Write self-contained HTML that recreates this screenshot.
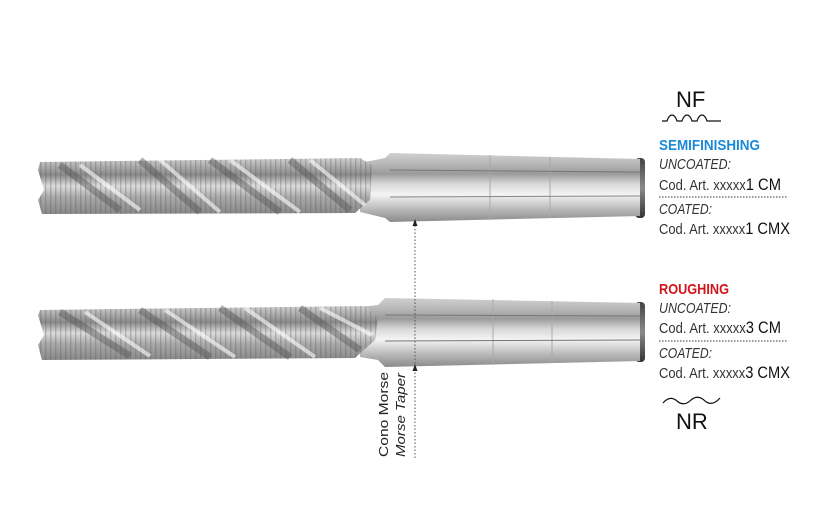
<!DOCTYPE html>
<html><head><meta charset="utf-8"><style>
html,body{margin:0;padding:0;background:#fff;}
svg{display:block}
text{font-family:"Liberation Sans",sans-serif;}
</style></head><body>
<svg width="840" height="520" viewBox="0 0 840 520" xmlns="http://www.w3.org/2000/svg">
<defs>
<linearGradient id="sh" x1="0" y1="0" x2="0" y2="1">
<stop offset="0" stop-color="#cfcfcf"/><stop offset="0.15" stop-color="#b9b9b9"/><stop offset="0.3" stop-color="#9a9a9a"/>
<stop offset="0.45" stop-color="#d8d8d8"/><stop offset="0.6" stop-color="#f4f4f4"/><stop offset="0.8" stop-color="#bdbdbd"/><stop offset="1" stop-color="#8a8a8a"/>
</linearGradient>
<linearGradient id="fl" x1="0" y1="0" x2="0" y2="1">
<stop offset="0" stop-color="#d0d0d0"/><stop offset="0.3" stop-color="#8a8a8a"/><stop offset="0.5" stop-color="#dcdcdc"/>
<stop offset="0.7" stop-color="#aaa"/><stop offset="1" stop-color="#888"/>
</linearGradient>
<linearGradient id="cap" x1="0" y1="0" x2="0" y2="1">
<stop offset="0" stop-color="#444"/><stop offset="0.5" stop-color="#8a8a8a"/><stop offset="1" stop-color="#333"/>
</linearGradient>
<pattern id="teeth" width="5" height="10" patternUnits="userSpaceOnUse">
<rect x="0" width="1.4" height="10" fill="#555" opacity="0.3"/>
</pattern>
</defs>

<!-- Tool 1 -->
<g>
<rect x="635" y="158" width="10" height="60" rx="4" fill="url(#cap)"/>
<polygon points="390,153 640,159 640,216 390,222" fill="url(#sh)"/>
<line x1="490" y1="155" x2="490" y2="220" stroke="#aaa"/>
<line x1="550" y1="157" x2="550" y2="218" stroke="#aaa"/>
<line x1="390" y1="170" x2="640" y2="172" stroke="#777" stroke-width="1"/>
<line x1="390" y1="197" x2="640" y2="196" stroke="#888" stroke-width="1"/>
<polygon points="360,163 385,158 390,153 390,222 385,218 360,212" fill="url(#sh)"/>
<polygon points="40,162 360,158 372,165 370,200 355,213 42,214 38,200 44,190 38,170" fill="url(#fl)"/>
<polygon points="40,162 360,158 372,165 370,200 355,213 42,214 38,200 44,190 38,170" fill="url(#teeth)"/>
<path d="M60,165 L120,210 M140,160 L200,212 M210,160 L280,212 M290,160 L350,210" stroke="#555" stroke-width="7" opacity="0.45" fill="none"/>
<path d="M80,165 L140,210 M160,160 L220,212 M230,160 L300,212 M310,160 L365,205" stroke="#fff" stroke-width="4" opacity="0.6" fill="none"/>
</g>

<!-- Tool 2 -->
<g>
<rect x="635" y="302" width="10" height="60" rx="4" fill="url(#cap)"/>
<polygon points="385,298 640,303 640,361 385,367" fill="url(#sh)"/>
<line x1="493" y1="299" x2="493" y2="365" stroke="#aaa"/>
<line x1="552" y1="301" x2="552" y2="363" stroke="#aaa"/>
<line x1="385" y1="315" x2="640" y2="316" stroke="#777"/>
<line x1="385" y1="341" x2="640" y2="340" stroke="#777"/>
<polygon points="360,307 378,305 385,298 385,367 378,360 360,357" fill="url(#sh)"/>
<polygon points="40,310 365,306 378,318 375,340 355,358 42,360 38,345 44,335 38,315" fill="url(#fl)"/>
<polygon points="40,310 365,306 378,318 375,340 355,358 42,360 38,345 44,335 38,315" fill="url(#teeth)"/>
<path d="M60,312 L130,356 M140,310 L210,357 M220,308 L290,357 M300,308 L360,350" stroke="#555" stroke-width="7" opacity="0.45" fill="none"/>
<path d="M85,312 L150,356 M165,310 L235,357 M245,308 L315,357 M320,308 L372,335" stroke="#fff" stroke-width="4" opacity="0.6" fill="none"/>
</g>

<!-- dashed connector -->
<line x1="415" y1="222" x2="415" y2="460" stroke="#555" stroke-width="1" stroke-dasharray="1.5,2"/>
<polygon points="412.5,226 417.5,226 415,219" fill="#222"/>
<polygon points="412.5,371 417.5,371 415,364" fill="#222"/>
<text transform="translate(388,457) rotate(-90)" font-size="13" fill="#222" textLength="85" lengthAdjust="spacingAndGlyphs">Cono Morse</text>
<text transform="translate(405,457) rotate(-90)" font-size="13" font-style="italic" fill="#222" textLength="84" lengthAdjust="spacingAndGlyphs">Morse Taper</text>

<!-- right labels -->
<text x="676" y="107" font-size="22" fill="#111">NF</text>
<path d="M662,121 L667,121 Q669,115 672,115 Q675,115 677,121 L682,121 Q684,115 687,115 Q690,115 692,121 L697,121 Q699,115 702,115 Q705,115 707,121 L721,121" stroke="#111" stroke-width="1.2" fill="none"/>
<text x="659" y="150" font-size="15" font-weight="bold" fill="#1a8ad6" textLength="101" lengthAdjust="spacingAndGlyphs">SEMIFINISHING</text>
<text x="659" y="169" font-size="15" font-style="italic" fill="#333" textLength="72" lengthAdjust="spacingAndGlyphs">UNCOATED:</text>
<text x="659" y="190" font-size="15" fill="#333" textLength="122" lengthAdjust="spacingAndGlyphs">Cod. Art. xxxxx<tspan font-size="17" fill="#111">1 CM</tspan></text>
<line x1="659" y1="197" x2="787" y2="197" stroke="#333" stroke-dasharray="1.5,1.5"/>
<text x="659" y="214" font-size="15" font-style="italic" fill="#333" textLength="53" lengthAdjust="spacingAndGlyphs">COATED:</text>
<text x="659" y="234" font-size="15" fill="#333" textLength="131" lengthAdjust="spacingAndGlyphs">Cod. Art. xxxxx<tspan font-size="17" fill="#111">1 CMX</tspan></text>

<text x="659" y="294" font-size="15" font-weight="bold" fill="#d0161c" textLength="70" lengthAdjust="spacingAndGlyphs">ROUGHING</text>
<text x="659" y="313" font-size="15" font-style="italic" fill="#333" textLength="72" lengthAdjust="spacingAndGlyphs">UNCOATED:</text>
<text x="659" y="333" font-size="15" fill="#333" textLength="122" lengthAdjust="spacingAndGlyphs">Cod. Art. xxxxx<tspan font-size="17" fill="#111">3 CM</tspan></text>
<line x1="659" y1="341" x2="787" y2="341" stroke="#333" stroke-dasharray="1.5,1.5"/>
<text x="659" y="358" font-size="15" font-style="italic" fill="#333" textLength="53" lengthAdjust="spacingAndGlyphs">COATED:</text>
<text x="659" y="378" font-size="15" fill="#333" textLength="131" lengthAdjust="spacingAndGlyphs">Cod. Art. xxxxx<tspan font-size="17" fill="#111">3 CMX</tspan></text>
<path d="M663,403 Q670,395 677,401 Q684,407 691,400 Q698,394 705,401 Q712,407 720,398" stroke="#111" stroke-width="1.2" fill="none"/>
<text x="676" y="429" font-size="22" fill="#111">NR</text>
</svg>
</body></html>
